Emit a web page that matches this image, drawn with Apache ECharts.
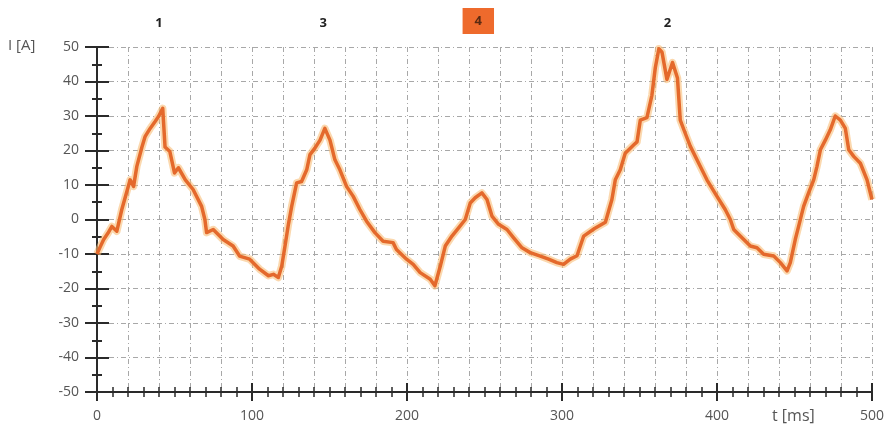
<!DOCTYPE html>
<html>
<head>
<meta charset="utf-8">
<script src="https://cdn.jsdelivr.net/npm/echarts@6/dist/echarts.min.js"></script>
<style>html,body{margin:0;padding:0;background:#fff}#c{width:887px;height:427px}</style>
</head>
<body>
<div id="c"></div>
<script>
// time (ms) and current (A)
const times = [0,2,4.3,7,9.6,12.8,16,19,21.4,23.6,25.7,29,31,34.3,37.5,39.6,42.4,43.9,47,50,52.5,57,62,67.5,69.6,70.7,75,81.4,87.8,92,98.5,104.9,110.6,113.8,117,119.2,121.3,123.5,125.6,128.8,132,135.3,137.4,140.6,143.9,147,150.3,153.5,156.7,161,165.3,169.6,173.9,179.3,184.6,191,193.2,199.7,204,208.5,215,218,221.5,224.7,229,233.3,237.6,240.8,244,248.3,251.6,254.8,259.1,264.5,268.8,274.2,279.5,286,291.4,296.7,301,305.3,309.7,314,321,328,332.2,334.4,337.6,340.8,346.2,348.4,350.5,354.8,358,360.2,362.5,364.5,367.7,371.3,374.5,376.3,379.5,382.8,388.2,393.5,400,405.3,408.6,410.8,415,421.5,425.8,430.1,436.6,440.9,445.2,447.3,450.5,452.7,455.9,459.1,462.4,464.5,466.7,469.9,473.1,476.3,479.6,482.8,485,488.2,492.5,496.8,500];
const current = [-10,-8,-5.8,-4,-2,-3.4,2.9,7.7,11.5,9.6,15.4,21,24,26.4,28.4,29.8,32.2,21,19.7,13.5,15,11.5,8.7,3.8,0,-3.8,-2.9,-5.8,-7.7,-10.6,-11.5,-14.4,-16.3,-15.9,-16.8,-13.5,-7.7,-1.4,3.8,10.6,11,14.4,18.8,20.7,23,26.4,23,17.3,14.4,9.6,6.7,2.9,-0.5,-3.8,-6.3,-6.7,-8.7,-11.5,-13,-15.4,-17.3,-19.2,-13.5,-7.7,-4.8,-2.4,0,4.8,6.3,7.7,5.8,1,-1.4,-2.9,-5.3,-8.2,-9.6,-10.6,-11.5,-12.5,-13,-11.5,-10.5,-4.8,-2.6,-0.8,5.8,11.5,14.4,19.2,21.6,22.5,28.8,29.5,36,44,49.5,48.5,40.6,45.5,41,28.8,25,21.2,16.3,11.5,6.7,2.9,0,-2.9,-4.8,-7.7,-8.2,-10.1,-10.6,-12.5,-14.9,-12.5,-5.8,-1.9,3.8,7.7,11.5,15.4,20.2,23,26,30,28.8,26.4,20.2,18.3,16.3,11.5,5.8];
const peakLabels = ['1','3','4','2'];
const peakTimes = [40,146,246,368];
const xTicks = [0,100,200,300,400,500];
const yTicks = [-50,-40,-30,-20,-10,0,10,20,30,40,50];

const chart = echarts.init(document.getElementById('c'));
const data = times.map((t,i)=>[t,current[i]]);
const font = 'Open Sans';
const axisCol = '#2a2a2a';
const gridLine = {show:true,lineStyle:{color:'#a8a8a8',width:1,type:[5,3,1,3]}};

const xBase = {type:'value',min:xTicks[0],max:xTicks[xTicks.length-1],position:'bottom'};
const yBase = {type:'value',min:yTicks[0],max:yTicks[yTicks.length-1],position:'left'};

const option = {
  animation:false,
  backgroundColor:'#fff',
  grid:{left:97,right:15,top:47,bottom:35},
  xAxis:[
    Object.assign({},xBase,{interval:100,
      axisLine:{show:true,onZero:false,lineStyle:{color:axisCol,width:2}},
      axisTick:{show:true,length:9,lineStyle:{color:axisCol,width:2}},
      minorTick:{show:true,splitNumber:10,length:5,lineStyle:{color:axisCol,width:1.5}},
      axisLabel:{margin:17,color:'#555',fontSize:14,fontFamily:font},
      splitLine:{show:false}}),
    Object.assign({},xBase,{interval:100,
      axisLine:{show:false,onZero:false},
      axisTick:{show:true,inside:true,length:9,lineStyle:{color:axisCol,width:2}},
      minorTick:{show:true,splitNumber:10,length:5,lineStyle:{color:axisCol,width:1.5}},
      axisLabel:{show:false},splitLine:{show:false}}),
    Object.assign({},xBase,{interval:20,
      axisLine:{show:false,onZero:false},axisTick:{show:false},axisLabel:{show:false},
      splitLine:gridLine})
  ],
  yAxis:[
    Object.assign({},yBase,{interval:10,
      axisLine:{show:true,onZero:false,lineStyle:{color:axisCol,width:2}},
      axisTick:{show:true,length:12,lineStyle:{color:axisCol,width:2}},
      minorTick:{show:true,splitNumber:2,length:5,lineStyle:{color:axisCol,width:2}},
      axisLabel:{margin:18,color:'#555',fontSize:14,fontFamily:font},
      splitLine:gridLine}),
    Object.assign({},yBase,{interval:10,
      axisLine:{show:false,onZero:false},
      axisTick:{show:true,inside:true,length:12,lineStyle:{color:axisCol,width:2}},
      minorTick:{show:true,splitNumber:2,length:5,lineStyle:{color:axisCol,width:2}},
      axisLabel:{show:false},splitLine:{show:false}})
  ],
  graphic:[
    {type:'text',left:8,top:38,style:{text:'I [A]',fill:'#555',font:'15px "Open Sans"'}},
    {type:'text',left:772,top:408,style:{text:'t [ms]',fill:'#555',font:'16px "Open Sans"'}}
  ],
  series:[
    {type:'line',xAxisIndex:0,yAxisIndex:0,data:data,showSymbol:false,silent:true,
     lineStyle:{color:'rgba(248,190,120,0.6)',width:7.5,join:'round'},z:3},
    {type:'line',xAxisIndex:0,yAxisIndex:0,data:data,showSymbol:false,silent:true,
     lineStyle:{color:'#e4692c',width:3.5,join:'round'},z:4,
     markPoint:{symbol:'circle',symbolSize:0,silent:true,
       data:peakTimes.map((t,i)=>({coord:[t,yTicks[yTicks.length-1]],value:peakLabels[i],
         label: peakLabels[i]==='4'
          ? {show:true,position:'inside',offset:[0,-26],formatter:'{c}',color:'#5a2a12',fontWeight:'bold',fontSize:13,fontFamily:font,backgroundColor:'#ee6a2c',padding:[7,12,6,12]}
          : {show:true,position:'inside',offset:[0,-24],formatter:'{c}',color:'#222',fontWeight:'bold',fontSize:13,fontFamily:font}
       }))}
    }
  ]
};
chart.setOption(option);
</script>
</body>
</html>
